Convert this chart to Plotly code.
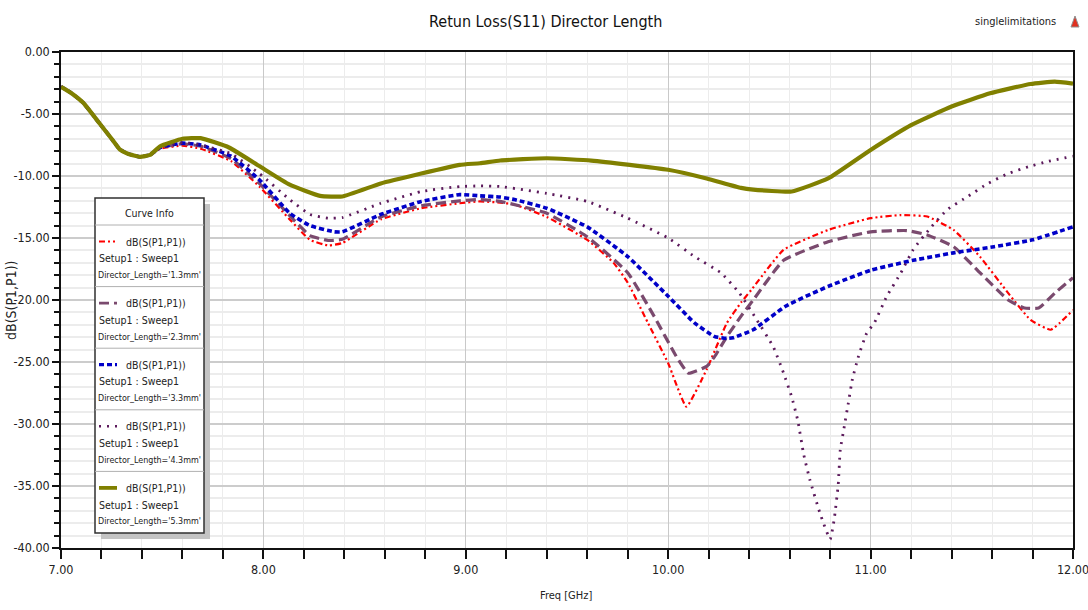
import plotly.graph_objects as go

# ---------------- data: S11 return loss vs frequency ----------------
freq_common = [7.00, 7.05, 7.11, 7.19, 7.25, 7.29, 7.33, 7.39, 7.44]
s11_common = [-2.8, -3.3, -4.1, -5.75, -7.0, -7.85, -8.2, -8.45, -8.3]

freq_13 = [7.49, 7.60, 7.69, 7.84, 7.98, 8.13, 8.23, 8.32, 8.39, 8.58, 8.78, 8.97, 9.07,
           9.17, 9.24, 9.40, 9.60, 9.73, 9.80, 9.90, 10.00, 10.09, 10.19, 10.29, 10.36,
           10.41, 10.57, 10.79, 11.00, 11.15, 11.28, 11.41, 11.54, 11.68, 11.79, 11.89, 12.00]
s11_13 = [-7.8, -7.55, -7.8, -8.8, -10.85, -13.5, -15.15, -15.6, -15.4, -13.5, -12.6, -12.2, -12.05,
          -12.15, -12.3, -13.3, -15.15, -17.0, -18.6, -21.85, -25.1, -28.6, -25.6, -21.85, -20.2,
          -19.2, -15.95, -14.35, -13.4, -13.15, -13.27, -14.35, -16.5, -19.45, -21.6, -22.4, -20.8]

freq_23 = [7.49, 7.60, 7.69, 7.84, 7.98, 8.13, 8.23, 8.32, 8.39, 8.58, 8.78, 8.97, 9.07,
           9.17, 9.40, 9.60, 9.80, 9.93, 10.04, 10.10, 10.19, 10.23, 10.29, 10.36, 10.42,
           10.57, 10.79, 11.00, 11.18, 11.28, 11.41, 11.54, 11.68, 11.76, 11.83, 11.91, 12.00]
s11_23 = [-7.7, -7.4, -7.6, -8.6, -10.6, -13.2, -14.8, -15.2, -15.1, -13.3, -12.4, -12.0, -11.9,
          -12.05, -13.0, -14.9, -17.8, -21.3, -24.55, -25.9, -25.35, -24.55, -22.95, -21.3, -20.0,
          -16.8, -15.3, -14.5, -14.4, -14.75, -15.7, -17.8, -20.0, -20.65, -20.65, -19.45, -18.2]

freq_33 = [7.49, 7.60, 7.69, 7.84, 7.98, 8.13, 8.23, 8.35, 8.39, 8.58, 8.78, 8.97, 9.07,
           9.17, 9.24, 9.40, 9.60, 9.80, 10.00, 10.13, 10.23, 10.29, 10.32, 10.42, 10.58,
           10.79, 11.00, 11.21, 11.41, 11.61, 11.80, 12.00]
s11_33 = [-7.7, -7.35, -7.5, -8.4, -10.3, -13.0, -14.0, -14.5, -14.5, -13.1, -12.05, -11.5, -11.6,
          -11.7, -11.9, -12.6, -14.1, -16.5, -19.7, -21.85, -22.95, -23.1, -23.05, -22.4, -20.5,
          -18.9, -17.6, -16.8, -16.2, -15.7, -15.15, -14.1]

freq_43 = [7.49, 7.60, 7.69, 7.84, 7.98, 8.13, 8.23, 8.32, 8.39, 8.58, 8.78, 8.97, 9.07,
           9.17, 9.40, 9.60, 9.80, 10.00, 10.13, 10.26, 10.35, 10.43, 10.52, 10.57, 10.61,
           10.64, 10.67, 10.70, 10.75, 10.80, 10.82, 10.84, 10.85, 10.87, 10.89, 10.91, 10.94,
           10.98, 11.02, 11.08, 11.15, 11.21, 11.30, 11.38, 11.48, 11.58, 11.68, 11.78, 11.87, 12.00]
s11_43 = [-7.7, -7.3, -7.5, -8.2, -9.8, -11.9, -13.1, -13.4, -13.35, -12.2, -11.25, -10.85, -10.8,
          -10.85, -11.4, -12.05, -13.4, -15.0, -16.5, -17.8, -19.4, -21.4, -23.8, -25.9, -27.8,
          -29.7, -32.5, -34.5, -37.2, -39.3, -37.7, -34.9, -32.1, -30.2, -28.3, -26.4, -24.55,
          -22.7, -21.8, -19.7, -17.8, -15.95, -14.1, -12.7, -11.65, -10.6, -9.8, -9.25, -8.85, -8.4]

freq_53 = [7.49, 7.60, 7.69, 7.83, 7.98, 8.13, 8.28, 8.39, 8.58, 8.78, 8.97, 9.07, 9.17,
           9.40, 9.62, 9.81, 10.00, 10.19, 10.36, 10.42, 10.61, 10.79, 11.00, 11.20, 11.40,
           11.59, 11.79, 11.91, 12.00]
s11_53 = [-7.6, -7.0, -6.95, -7.7, -9.2, -10.7, -11.6, -11.65, -10.6, -9.8, -9.1, -8.97, -8.75,
          -8.57, -8.76, -9.1, -9.5, -10.2, -10.96, -11.1, -11.25, -10.2, -7.9, -5.9, -4.4,
          -3.33, -2.58, -2.39, -2.55]

lengths = ["1.3mm", "2.3mm", "3.3mm", "4.3mm", "5.3mm"]
series_freq = [freq_13, freq_23, freq_33, freq_43, freq_53]
series_s11 = [s11_13, s11_23, s11_33, s11_43, s11_53]

x_ticks = [7, 8, 9, 10, 11, 12]
x_ticktext = ["7.00", "8.00", "9.00", "10.00", "11.00", "12.00"]
y_ticks = [0, -5, -10, -15, -20, -25, -30, -35, -40]
y_ticktext = ["0.00", "-5.00", "-10.00", "-15.00", "-20.00", "-25.00", "-30.00", "-35.00", "-40.00"]

title_text = "Retun Loss(S11) Director Length"
legend_title = "Curve Info"
trace_name = "dB(S(P1,P1))"
setup_name = "Setup1 : Sweep1"

# ---------------- styles ----------------
colors = ["#ff0000", "#7a4a6e", "#0000c8", "#5c1a5c", "#808000"]
dashes = ["6px,3px,2px,3px,2px,3px", "10px,5px", "5px,3px", "2px,6px", "solid"]
widths = [2.2, 3.2, 3.6, 2.8, 4.2]

FONT = "Liberation Sans Narrow, DejaVu Sans Condensed, Arial Narrow, Liberation Sans, sans-serif"
TXT = "#222"

W, H = 1088, 610
L, R, T, B = 61, 1073, 52, 548


def px_x(p):
    return (p - L) / (R - L)


def px_y(p):
    return (B - p) / (B - T)


fig = go.Figure()
for i in range(5):
    fig.add_trace(go.Scatter(
        x=freq_common + series_freq[i],
        y=s11_common + series_s11[i],
        mode="lines",
        line=dict(color=colors[i], dash=dashes[i], width=widths[i], shape="spline", smoothing=0.4),
        name=f"Director_Length='{lengths[i]}'",
        showlegend=False,
        hoverinfo="x+y",
    ))

shapes = []
annotations = []

# ---------------- custom "Curve Info" box ----------------
bx0, bx1, by0, by1 = 95, 204, 198, 533
shadow = 6
shapes.append(dict(type="rect", xref="paper", yref="paper",
                   x0=px_x(bx0 + shadow), x1=px_x(bx1 + shadow),
                   y0=px_y(by0 + shadow), y1=px_y(by1 + shadow),
                   fillcolor="#c4c4c4", line=dict(width=0), layer="above"))
shapes.append(dict(type="rect", xref="paper", yref="paper",
                   x0=px_x(bx0), x1=px_x(bx1), y0=px_y(by0), y1=px_y(by1),
                   fillcolor="white", line=dict(color="#303030", width=1.5), layer="above"))
annotations.append(dict(text=legend_title, xref="paper", yref="paper",
                        x=px_x((bx0 + bx1) / 2), y=px_y(213), showarrow=False,
                        xanchor="center", yanchor="middle",
                        font=dict(family=FONT, size=10.5, color=TXT)))
header_h = 225
row_h = (by1 - header_h) / 5
shapes.append(dict(type="line", xref="paper", yref="paper",
                   x0=px_x(bx0), x1=px_x(bx1), y0=px_y(header_h), y1=px_y(header_h),
                   line=dict(color="#b0b0b0", width=1), layer="above"))
for i in range(5):
    top = header_h + i * row_h
    if i > 0:
        shapes.append(dict(type="line", xref="paper", yref="paper",
                           x0=px_x(bx0), x1=px_x(bx1), y0=px_y(top), y1=px_y(top),
                           line=dict(color="#b0b0b0", width=1), layer="above"))
    y1 = top + 16.5
    shapes.append(dict(type="line", xref="paper", yref="paper",
                       x0=px_x(99), x1=px_x(117), y0=px_y(y1), y1=px_y(y1),
                       line=dict(color=colors[i], width=widths[i] * 0.9,
                                 dash=dashes[i]), layer="above"))
    annotations.append(dict(text=trace_name, xref="paper", yref="paper",
                            x=px_x(124), y=px_y(y1), showarrow=False,
                            xanchor="left", yanchor="middle",
                            font=dict(family=FONT, size=10.5, color=TXT)))
    annotations.append(dict(text=setup_name, xref="paper", yref="paper",
                            x=px_x(97), y=px_y(y1 + 16.7), showarrow=False,
                            xanchor="left", yanchor="middle",
                            font=dict(family=FONT, size=10.5, color=TXT)))
    annotations.append(dict(text=f"Director_Length='{lengths[i]}'", xref="paper", yref="paper",
                            x=px_x(96), y=px_y(y1 + 33.4), showarrow=False,
                            xanchor="left", yanchor="middle",
                            font=dict(family=FONT, size=8.9, color=TXT)))

# ---------------- header texts and badge ----------------
annotations.append(dict(text=title_text, xref="paper", yref="paper",
                        x=px_x(545), y=px_y(22), showarrow=False,
                        xanchor="center", yanchor="middle",
                        font=dict(family=FONT, size=16, color="#111")))
annotations.append(dict(text="singlelimitations", xref="paper", yref="paper",
                        x=px_x(1058), y=px_y(22), showarrow=False,
                        xanchor="right", yanchor="middle",
                        font=dict(family=FONT, size=11, color=TXT)))
annotations.append(dict(text="Freq [GHz]", xref="paper", yref="paper",
                        x=px_x(566), y=px_y(595), showarrow=False,
                        xanchor="center", yanchor="middle",
                        font=dict(family=FONT, size=11, color=TXT)))
annotations.append(dict(text="dB(S(P1,P1))", xref="paper", yref="paper",
                        x=px_x(11), y=px_y(300), showarrow=False, textangle=-90,
                        xanchor="center", yanchor="middle",
                        font=dict(family=FONT, size=14, color=TXT)))
bx, byc = 1075, 22
shapes.append(dict(type="path", xref="paper", yref="paper",
                   path=(f"M {px_x(bx - 4)},{px_y(byc + 5)} L {px_x(bx)},{px_y(byc - 6)} "
                         f"L {px_x(bx + 4)},{px_y(byc + 5)} Z"),
                   fillcolor="#e03020", line=dict(color="#909090", width=1)))

fig.update_layout(
    width=W, height=H,
    margin=dict(l=L, r=W - R, t=T, b=H - B, pad=0),
    paper_bgcolor="white", plot_bgcolor="white",
    font=dict(family=FONT, size=12, color=TXT),
    shapes=shapes, annotations=annotations,
    showlegend=False,
)
fig.update_xaxes(
    range=[7, 12], tickmode="array", tickvals=x_ticks, ticktext=x_ticktext,
    ticks="outside", ticklen=9, tickwidth=1.5, tickcolor="#111",
    showline=True, linecolor="#111", linewidth=1.5, mirror=True,
    showgrid=True, gridcolor="#c9c9c9", gridwidth=1,
    tickfont=dict(family=FONT, size=12.5, color=TXT),
    ticklabeloverflow="allow", automargin=False,
    minor=dict(dtick=0.2, tick0=7, ticks="outside", ticklen=9, tickwidth=1.5, tickcolor="#111",
               showgrid=True, gridcolor="#ececec", gridwidth=1),
    zeroline=False,
)
fig.update_yaxes(
    range=[-40, 0], tickmode="array", tickvals=y_ticks, ticktext=y_ticktext,
    ticks="outside", ticklen=7, tickwidth=1.5, tickcolor="#111",
    showline=True, linecolor="#111", linewidth=1.5, mirror=True,
    showgrid=True, gridcolor="#cccccc", gridwidth=2,
    tickfont=dict(family=FONT, size=12.5, color=TXT),
    ticklabeloverflow="allow", automargin=False,
    minor=dict(dtick=1, tick0=0, ticks="outside", ticklen=5, tickwidth=1.5, tickcolor="#111",
               showgrid=True, gridcolor="#ececec", gridwidth=2),
    zeroline=False,
)

fig.write_html("out.html")
